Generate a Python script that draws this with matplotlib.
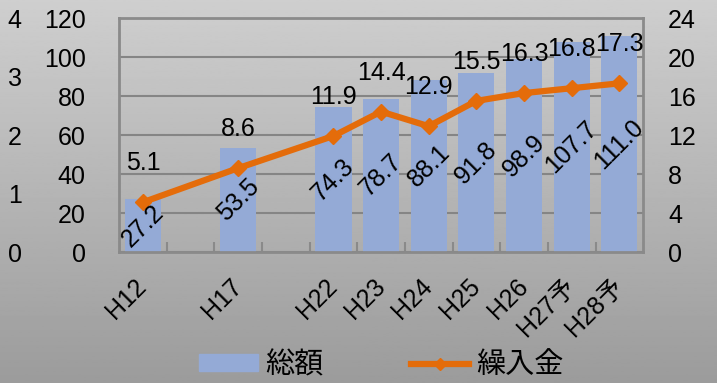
import numpy as np
import matplotlib
matplotlib.use("Agg")
import matplotlib.pyplot as plt

plt.rcParams['font.family'] = ['Liberation Sans', 'Noto Sans CJK JP', 'DejaVu Sans']

# Fiscal years (blank slots keep the gaps between H12, H17 and H22)
categories = ["H12", "", "H17", "", "H22", "H23", "H24", "H25", "H26", "H27予", "H28予"]
# 総額 (left axis)
totals = [27.2, np.nan, 53.5, np.nan, 74.3, 78.7, 88.1, 91.8, 98.9, 107.7, 111.0]
# 繰入金 (right axis)
transfers = [5.1, np.nan, 8.6, np.nan, 11.9, 14.4, 12.9, 15.5, 16.3, 16.8, 17.3]

bar_color = "#94AAD6"
line_color = "#E46C0A"
grid_color = "#858585"

totals = np.array(totals)
transfers = np.array(transfers)
x = np.arange(len(categories))
has_bar = ~np.isnan(totals)
has_pt = ~np.isnan(transfers)

fig = plt.figure(figsize=(7.17, 3.83), dpi=100)

# gray vertical gradient behind everything
bg = fig.add_axes([0, 0, 1, 1], zorder=-10)
bg.imshow(np.linspace(0.61, 0.81, 256)[:, None], aspect='auto', cmap='gray',
          vmin=0, vmax=1, origin='lower', extent=[0, 1, 0, 1])
bg.axis('off')

ax = fig.add_axes([0.166, 0.342, 0.731, 0.611])
ax.patch.set_visible(False)
ax.bar(x[has_bar], totals[has_bar], width=0.76, color=bar_color, zorder=2)
ax.set_xlim(-0.5, len(categories) - 0.5)
ax.set_ylim(0, 120)
ax.set_yticks(np.arange(0, 121, 20))
ax.yaxis.grid(True, color=grid_color, linewidth=1.5, zorder=0)
ax.set_axisbelow(True)
for s in ax.spines.values():
    s.set_color("#8A8A8A")
    s.set_linewidth(2)
ax.tick_params(axis='y', length=0, pad=24, labelsize=18)
ax.set_xticks(x)
ax.set_xticklabels(categories)
ax.set_xticks(x[:-1] + 0.5, minor=True)
ax.tick_params(axis='x', which='major', length=0, pad=22, labelsize=18)
ax.tick_params(axis='x', which='minor', direction='in', length=7, width=1.5,
               color="#8A8A8A")
plt.setp(ax.get_xticklabels(), rotation=45, ha='right', va='center',
         rotation_mode='anchor')

# 繰入金 on the right axis
ax2 = ax.twinx()
ax2.plot(x[has_pt], transfers[has_pt], color=line_color, linewidth=4.5,
         marker='D', markersize=8, markeredgewidth=1, zorder=3)
ax2.set_ylim(0, 24)
ax2.set_yticks(np.arange(0, 25, 4))
ax2.tick_params(axis='y', length=0, pad=18, labelsize=18)
for s in ax2.spines.values():
    s.set_visible(False)

for xi, v in zip(x[has_pt], transfers[has_pt]):
    ax2.annotate(f"{v:.1f}", (xi, v), xytext=(0, 28), textcoords='offset points',
                 ha='center', va='center', fontsize=18, zorder=5)

# bar values, rotated, in the middle of each bar (drawn above the line)
for xi, v in zip(x[has_bar], totals[has_bar]):
    ax2.annotate(f"{v:.1f}", (xi, v / 2), xycoords=ax.transData, rotation=45,
                 ha='center', va='center', fontsize=18, zorder=6)

# extra scale on the far left
ax3 = ax.twinx()
ax3.set_ylim(0, 4)
ax3.set_yticks(np.arange(0, 5, 1))
ax3.yaxis.set_ticks_position('left')
ax3.tick_params(axis='y', length=0, pad=70, labelsize=18)
for s in ax3.spines.values():
    s.set_visible(False)

bar_handle = plt.Rectangle((0, 0), 1, 1, color=bar_color)
line_handle = plt.Line2D([], [], color=line_color, linewidth=4.5, marker='D',
                         markersize=6)
fig.legend([bar_handle, line_handle], ["総額", "繰入金"], loc='center',
           bbox_to_anchor=(0.532, 0.047), ncol=2, frameon=False, fontsize=21,
           handlelength=2.0, handleheight=0.5, handletextpad=0.25,
           columnspacing=3.0)

fig.savefig("out.png", dpi=100)
